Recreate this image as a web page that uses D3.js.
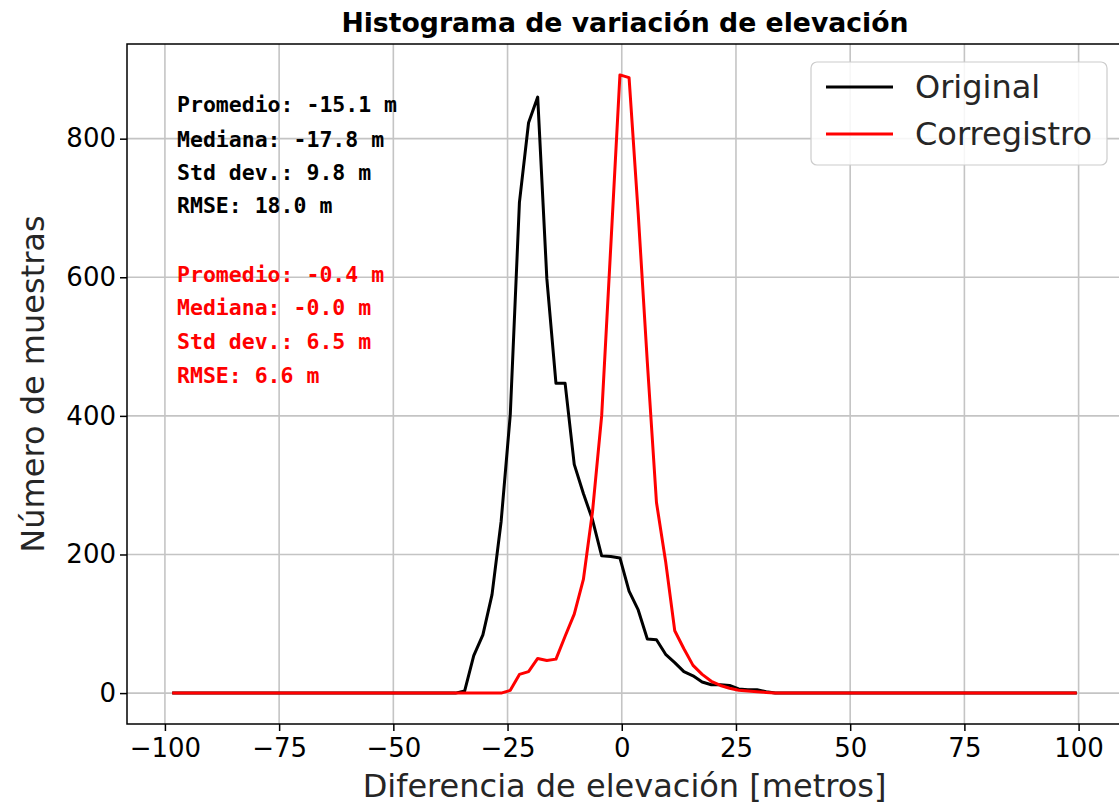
<!DOCTYPE html>
<html>
<head>
<meta charset="utf-8">
<script src="https://cdn.jsdelivr.net/npm/d3@7"></script>
<style>
  body { margin: 0; background: #fff; }
  text { font-family: "DejaVu Sans", sans-serif; }
  .mono { font-family: "DejaVu Sans Mono", monospace; font-weight: bold; }
</style>
</head>
<body>
<svg id="chart" width="1119" height="806"></svg>
<script>
// bin centres [m]
const binCenters = [
  -98.4, -96.4, -94.4, -92.4, -90.4, -88.4, -86.4, -84.4, -82.4, -80.4,
  -78.4, -76.4, -74.4, -72.4, -70.4, -68.4, -66.4, -64.4, -62.4, -60.4,
  -58.4, -56.4, -54.4, -52.4, -50.4, -48.4, -46.4, -44.4, -42.4, -40.4,
  -38.4, -36.4, -34.4, -32.4, -30.4, -28.4, -26.4, -24.4, -22.4, -20.4,
  -18.4, -16.4, -14.4, -12.4, -10.4, -8.4, -6.4, -4.4, -2.4, -0.4,
  1.6, 3.6, 5.6, 7.6, 9.6, 11.6, 13.6, 15.6, 17.6, 19.6,
  21.6, 23.6, 25.6, 27.6, 29.6, 31.6, 33.6, 35.6, 37.6, 39.6,
  41.6, 43.6, 45.6, 47.6, 49.6, 51.6, 53.6, 55.6, 57.6, 59.6,
  61.6, 63.6, 65.6, 67.6, 69.6, 71.6, 73.6, 75.6, 77.6, 79.6,
  81.6, 83.6, 85.6, 87.6, 89.6, 91.6, 93.6, 95.6, 97.6, 99.6
];

const originalCounts = [
  0, 0, 0, 0, 0, 0, 0, 0, 0, 0,
  0, 0, 0, 0, 0, 0, 0, 0, 0, 0,
  0, 0, 0, 0, 0, 0, 0, 0, 0, 0,
  0, 0, 3, 54, 84, 142, 248, 402, 708, 823,
  860, 598, 447, 447, 330, 288, 250, 198, 197, 195,
  147, 120, 78, 77, 56, 44, 31, 25, 16, 12,
  12, 11, 6, 5, 5, 2, 0, 0, 0, 0,
  0, 0, 0, 0, 0, 0, 0, 0, 0, 0,
  0, 0, 0, 0, 0, 0, 0, 0, 0, 0,
  0, 0, 0, 0, 0, 0, 0, 0, 0, 0
];

const corregCounts = [
  0, 0, 0, 0, 0, 0, 0, 0, 0, 0,
  0, 0, 0, 0, 0, 0, 0, 0, 0, 0,
  0, 0, 0, 0, 0, 0, 0, 0, 0, 0,
  0, 0, 0, 0, 0, 0, 0, 4, 27, 31,
  50, 47, 49, 82, 114, 164, 262, 400, 645, 892,
  888, 692, 477, 275, 190, 90, 64, 40, 27, 17,
  11, 7, 4, 3, 2, 1, 0, 0, 0, 0,
  0, 0, 0, 0, 0, 0, 0, 0, 0, 0,
  0, 0, 0, 0, 0, 0, 0, 0, 0, 0,
  0, 0, 0, 0, 0, 0, 0, 0, 0, 0
];

const xTicks = [-100, -75, -50, -25, 0, 25, 50, 75, 100];
const yTicks = [0, 200, 400, 600, 800];

const statsOriginal = ['Promedio: -15.1 m', 'Mediana: -17.8 m', 'Std dev.: 9.8 m', 'RMSE: 18.0 m'];
const statsCorreg = ['Promedio: -0.4 m', 'Mediana: -0.0 m', 'Std dev.: 6.5 m', 'RMSE: 6.6 m'];

const series = [
  { label: 'Original', color: '#000000', values: originalCounts },
  { label: 'Corregistro', color: '#ff0000', values: corregCounts }
];

// plot area (pixels)
const plotLeft = 127, plotRight = 1122, plotTop = 44, plotBottom = 724;

const svg = d3.select('#chart');

// matplotlib style 5% margins
const xSpan = binCenters[binCenters.length - 1] - binCenters[0];
const x = d3.scaleLinear()
  .domain([binCenters[0] - xSpan * 0.05, binCenters[binCenters.length - 1] + xSpan * 0.05])
  .range([plotLeft, plotRight]);

const yMax = d3.max(series, s => d3.max(s.values));
const y = d3.scaleLinear()
  .domain([-yMax * 0.05, yMax * 1.05])
  .range([plotBottom, plotTop]);

const plot = svg.append('g');

plot.append('clipPath').attr('id', 'clip')
  .append('rect')
  .attr('x', plotLeft).attr('y', plotTop)
  .attr('width', plotRight - plotLeft).attr('height', plotBottom - plotTop);

// grid
const grid = plot.append('g').attr('stroke', '#c4c4c4').attr('stroke-width', 1.6);
xTicks.forEach(t => {
  grid.append('line')
    .attr('x1', x(t)).attr('x2', x(t))
    .attr('y1', plotTop).attr('y2', plotBottom);
});
yTicks.forEach(t => {
  grid.append('line')
    .attr('x1', plotLeft).attr('x2', plotRight)
    .attr('y1', y(t)).attr('y2', y(t));
});

// lines
const line = d3.line()
  .x((d, i) => x(binCenters[i]))
  .y(d => y(d));

series.forEach(s => {
  plot.append('path')
    .datum(s.values)
    .attr('clip-path', 'url(#clip)')
    .attr('fill', 'none')
    .attr('stroke', s.color)
    .attr('stroke-width', 3)
    .attr('stroke-linejoin', 'round')
    .attr('d', line);
});

// axes
const xAxis = svg.append('g')
  .attr('transform', `translate(0,${plotBottom})`)
  .call(d3.axisBottom(x).tickValues(xTicks).tickSize(7).tickPadding(8).tickFormat(d3.format('d')));
xAxis.selectAll('text').attr('font-size', 26).attr('fill', '#000').attr('font-family', 'DejaVu Sans');

const yAxis = svg.append('g')
  .attr('transform', `translate(${plotLeft},0)`)
  .call(d3.axisLeft(y).tickValues(yTicks).tickSize(7).tickPadding(4).tickFormat(d3.format('d')));
yAxis.selectAll('text').attr('font-size', 26).attr('fill', '#000').attr('font-family', 'DejaVu Sans');

[xAxis, yAxis].forEach(a => {
  a.select('.domain').remove();
  a.selectAll('.tick line').attr('stroke', '#000').attr('stroke-width', 1.5);
});

// frame
svg.append('rect')
  .attr('x', plotLeft).attr('y', plotTop)
  .attr('width', plotRight - plotLeft).attr('height', plotBottom - plotTop)
  .attr('fill', 'none').attr('stroke', '#000').attr('stroke-width', 1.5);

// titles
svg.append('text')
  .attr('x', 625).attr('y', 32)
  .attr('text-anchor', 'middle')
  .attr('font-size', 26.7).attr('font-weight', 'bold')
  .text('Histograma de variación de elevación');

svg.append('text')
  .attr('x', (plotLeft + plotRight) / 2).attr('y', 797)
  .attr('text-anchor', 'middle')
  .attr('font-size', 32).attr('fill', '#262626')
  .text('Diferencia de elevación [metros]');

svg.append('text')
  .attr('transform', `translate(44,${(plotTop + plotBottom) / 2}) rotate(-90)`)
  .attr('text-anchor', 'middle')
  .attr('font-size', 32).attr('fill', '#262626')
  .text('Número de muestras');

// stats text
const statBaselines = [112, 147, 180, 213, 282, 315, 349, 383];
statsOriginal.concat(statsCorreg).forEach((t, i) => {
  svg.append('text')
    .attr('class', 'mono')
    .attr('x', 177).attr('y', statBaselines[i])
    .attr('font-size', 21.5)
    .attr('fill', i < 4 ? '#000' : '#ff0000')
    .text(t);
});

// legend
const legend = svg.append('g');
legend.append('rect')
  .attr('x', 811).attr('y', 62)
  .attr('width', 296).attr('height', 103)
  .attr('rx', 6)
  .attr('fill', '#fff').attr('fill-opacity', 0.85)
  .attr('stroke', '#cccccc').attr('stroke-width', 1.2);

series.forEach((s, i) => {
  const ly = 87 + i * 47;
  legend.append('line')
    .attr('x1', 826).attr('x2', 893)
    .attr('y1', ly).attr('y2', ly)
    .attr('stroke', s.color).attr('stroke-width', 3);
  legend.append('text')
    .attr('x', 915).attr('y', ly)
    .attr('dominant-baseline', 'central')
    .attr('font-size', 32).attr('fill', '#262626')
    .text(s.label);
});
</script>
</body>
</html>
